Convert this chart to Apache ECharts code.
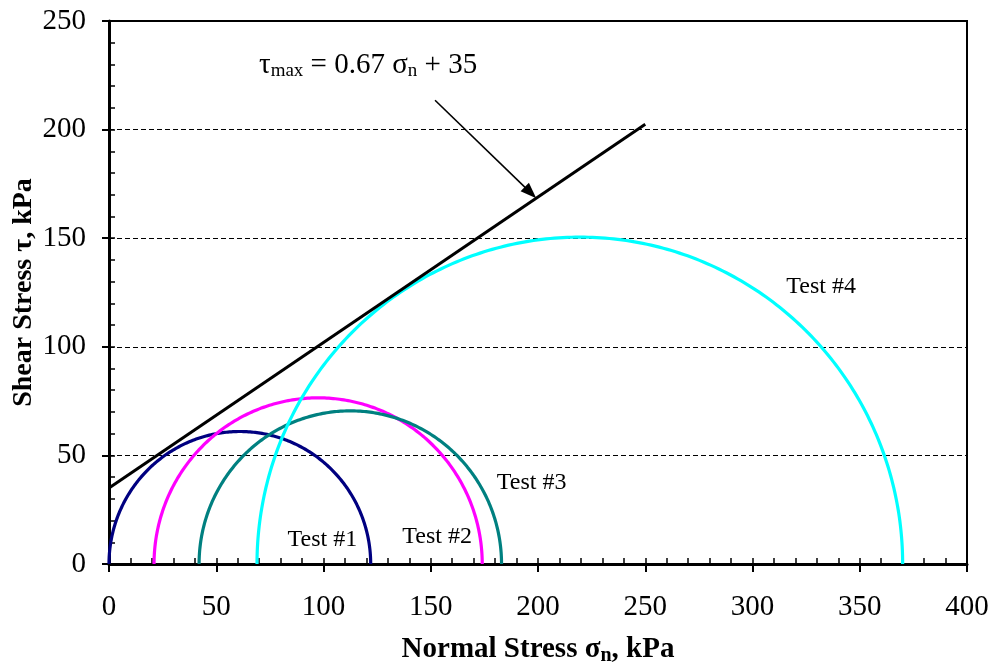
<!DOCTYPE html>
<html>
<head>
<meta charset="utf-8">
<title>Mohr circles – triaxial tests</title>
<script src="https://cdn.jsdelivr.net/npm/echarts@6/dist/echarts.min.js"></script>
<style>
  html, body { margin: 0; padding: 0; background: #fff; }
  #chart { width: 1000px; height: 670px; }
</style>
</head>
<body>
<div id="chart"></div>
<script>
// Triaxial test results: minor / major principal stress (kPa) of each test
const testNames = ['Test #1', 'Test #2', 'Test #3', 'Test #4'];
const sigma3 = [0, 21, 42, 69];
const sigma1 = [122, 174, 183, 370];
const testColors = ['#000080', '#FF00FF', '#008080', '#00FFFF'];

// Where each test label sits (normal stress, shear stress)
const labelSigma = [99.5, 153, 197, 332];
const labelTau = [11.4, 12.7, 37.4, 127.6];

// Failure envelope  tau_max = 0.67 sigma_n + 35, drawn over sigma_n 0..250
const envelopeSlope = 0.67;
const envelopeIntercept = 35;
const envelopeSigma = [0, 250];

// Pointer from the equation to the envelope
const arrowFrom = [152, 213.5];
const arrowTo = [196.5, 171];

// Axis ticks
const xTicks = [0, 50, 100, 150, 200, 250, 300, 350, 400];
const yTicks = [0, 50, 100, 150, 200, 250];

const SERIF = '"Liberation Serif", "Times New Roman", serif';

const envelopeData = envelopeSigma.map(s => [s, envelopeSlope * s + envelopeIntercept]);

// Upper half of a Mohr circle, built in pixel space from the axis scales
function mohrCircle(params, api) {
  const s3 = api.value(0);
  const s1 = api.value(1);
  const r = (s1 - s3) / 2;
  const c = api.coord([(s3 + s1) / 2, 0]);
  const sz = api.size([r, r]);
  const pts = [];
  for (let i = 0; i <= 240; i++) {
    const a = Math.PI * i / 240;
    pts.push([c[0] - sz[0] * Math.cos(a), c[1] - sz[1] * Math.sin(a)]);
  }
  return {
    type: 'polyline',
    shape: { points: pts },
    style: { stroke: api.visual('color'), lineWidth: 3.2, fill: 'none', lineJoin: 'round' }
  };
}

const circleSeries = testNames.map((name, i) => ({
  name: name,
  type: 'custom',
  renderItem: mohrCircle,
  itemStyle: { color: testColors[i] },
  data: [[sigma3[i], sigma1[i]]],
  z: 3,
  silent: true
}));

const labelSeries = {
  type: 'custom',
  silent: true,
  z: 5,
  data: labelSigma.map((s, i) => [s, labelTau[i]]),
  renderItem: function (params, api) {
    const p = api.coord([api.value(0), api.value(1)]);
    return {
      type: 'text',
      x: p[0],
      y: p[1],
      style: {
        text: testNames[params.dataIndex],
        fontFamily: SERIF,
        fontSize: 24,
        fill: '#000',
        align: 'center',
        verticalAlign: 'middle'
      }
    };
  }
};

const envelopeSeries = {
  name: 'envelope',
  type: 'line',
  data: envelopeData,
  symbol: 'none',
  silent: true,
  z: 4,
  lineStyle: { color: '#000', width: 3 },
  markLine: {
    silent: true,
    symbol: ['none', 'triangle'],
    symbolSize: [12, 16],
    label: { show: false },
    lineStyle: { color: '#000', width: 1.6, type: 'solid' },
    data: [[{ coord: arrowFrom }, { coord: arrowTo }]]
  }
};

const chart = echarts.init(document.getElementById('chart'), null, { renderer: 'canvas' });

const tickLabelStyle = { fontFamily: SERIF, fontSize: 29, color: '#000' };
const xNameRich = {
  b: { fontFamily: SERIF, fontSize: 29, fontWeight: 'bold', color: '#000', lineHeight: 32 },
  sub: { fontFamily: SERIF, fontSize: 20, fontWeight: 'bold', color: '#000', lineHeight: 14, verticalAlign: 'bottom' }
};
const yNameRich = {
  b: { fontFamily: SERIF, fontSize: 28, fontWeight: 'bold', color: '#000', lineHeight: 30 }
};

chart.setOption({
  animation: false,
  backgroundColor: '#fff',
  grid: {
    left: 109, right: 33, top: 21, bottom: 106,
    containLabel: false,
    outerBoundsMode: 'none',
    show: true, borderColor: '#000', borderWidth: 2, backgroundColor: 'transparent'
  },
  xAxis: [
    {
      type: 'value', position: 'bottom',
      min: xTicks[0], max: xTicks[xTicks.length - 1], interval: xTicks[1] - xTicks[0],
      axisLine: { show: true, onZero: false, lineStyle: { color: '#000', width: 3 } },
      axisTick: { show: true, inside: false, length: 8, lineStyle: { color: '#000', width: 2 } },
      axisLabel: Object.assign({ margin: 29 }, tickLabelStyle),
      splitLine: { show: false },
      name: '{b|Normal Stress σ}{sub|n}{b|, kPa}',
      nameLocation: 'middle',
      nameMoveOverlap: false,
      nameGap: 70,
      nameTextStyle: { rich: xNameRich }
    },
    {
      type: 'value', position: 'bottom',
      min: 0, max: 400, interval: 10,
      axisLine: { show: false },
      axisTick: { show: true, inside: true, length: 6, lineStyle: { color: '#000', width: 1.5 } },
      axisLabel: { show: false },
      splitLine: { show: false }
    }
  ],
  yAxis: [
    {
      type: 'value', position: 'left',
      min: yTicks[0], max: yTicks[yTicks.length - 1], interval: yTicks[1] - yTicks[0],
      axisLine: { show: true, onZero: false, lineStyle: { color: '#000', width: 3 } },
      axisTick: { show: true, inside: false, length: 7, lineStyle: { color: '#000', width: 2 } },
      axisLabel: Object.assign({ margin: 23 }, tickLabelStyle),
      splitLine: { show: true, lineStyle: { color: '#000', width: 1, type: [5, 3] } },
      name: '{b|Shear Stress τ, kPa}',
      nameLocation: 'middle',
      nameMoveOverlap: false,
      nameGap: 70,
      nameRotate: 90,
      nameTextStyle: { rich: yNameRich }
    },
    {
      type: 'value', position: 'left',
      min: 0, max: 250, interval: 10,
      axisLine: { show: false },
      axisTick: { show: true, inside: true, length: 6, lineStyle: { color: '#000', width: 1.5 } },
      axisLabel: { show: false },
      splitLine: { show: false }
    }
  ],
  graphic: [
    {
      type: 'text',
      left: 259,
      top: 51,
      z: 10,
      style: {
        text: '{t|τ}{s|max}{t| = 0.67 σ}{s|n}{t| + 35}',
        rich: {
          t: { fontFamily: SERIF, fontSize: 29, fill: '#000', lineHeight: 30 },
          s: { fontFamily: SERIF, fontSize: 19, fill: '#000', lineHeight: 14, verticalAlign: 'bottom' }
        }
      }
    }
  ],
  series: circleSeries.concat([envelopeSeries, labelSeries])
});
</script>
</body>
</html>
